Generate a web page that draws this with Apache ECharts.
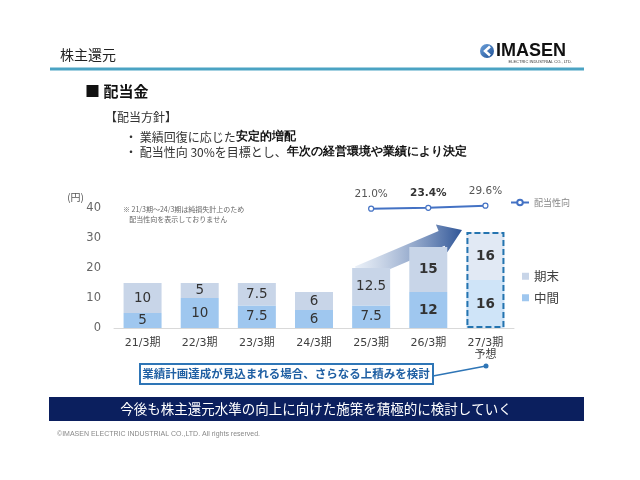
<!DOCTYPE html>
<html>
<head>
<meta charset="utf-8">
<script src="https://cdn.jsdelivr.net/npm/echarts@6/dist/echarts.min.js"></script>
<style>
html, body { margin: 0; padding: 0; background: #fff; }
#main { width: 640px; height: 480px; }
</style>
</head>
<body>
<div id="main"></div>
<script>
var categories = ['21/3期', '22/3期', '23/3期', '24/3期', '25/3期', '26/3期', '27/3期\n予想'];
var interimValues = [5, 10, 7.5, 6, 7.5, 12, 16];
var yearEndValues = [10, 5, 7.5, 6, 12.5, 15, 16];
var payoutRatio = [null, null, null, null, 21.0, 23.4, 29.6];
var forecastIndex = 6;

var JP = '"Noto Sans CJK JP", sans-serif';
var NUM = '"DejaVu Sans", "Noto Sans CJK JP", sans-serif';

var chartDom = document.getElementById('main');
var myChart = echarts.init(chartDom, null, { renderer: 'canvas' });

// 予想期だけ色を薄く、26/3期以降はラベルを太字
function buildBars(values, forecastColor) {
	var out = [];
	for (var i = 0; i < values.length; i++) {
		var item = { value: values[i] };
		if (i === forecastIndex) {
			item.itemStyle = { color: forecastColor };
		}
		if (i >= 5) {
			item.label = { fontWeight: 'bold' };
		}
		out.push(item);
	}
	return out;
}

var forecastBox = [];
for (var i = 0; i < categories.length; i++) {
	forecastBox.push(i === forecastIndex ? interimValues[i] + yearEndValues[i] : null);
}

var payoutData = [];
for (var j = 0; j < payoutRatio.length; j++) {
	if (payoutRatio[j] === null) {
		payoutData.push(null);
	} else {
		payoutData.push({
			value: payoutRatio[j],
			label: j === 5 ? { fontWeight: 'bold', color: '#333' } : {}
		});
	}
}

var barLabel = {
	show: true,
	position: 'inside',
	color: '#333',
	fontSize: 13.5,
	fontFamily: NUM
};

var option = {
	animation: false,
	backgroundColor: '#fff',
	textStyle: { fontFamily: JP },
	grid: [{
		left: 114, width: 400, top: 208, height: 120
	}, {
		left: 114, width: 400, top: 181, height: 35
	}],
	xAxis: [{
		type: 'category',
		gridIndex: 0,
		data: categories,
		axisLine: { lineStyle: { color: '#d9d9d9', width: 1 } },
		axisTick: { show: false },
		axisLabel: { color: '#404040', fontSize: 11, margin: 9, lineHeight: 12, fontFamily: NUM }
	}, {
		type: 'category',
		gridIndex: 1,
		data: categories,
		show: false
	}],
	yAxis: [{
		type: 'value',
		gridIndex: 0,
		min: 0,
		max: 40,
		interval: 10,
		name: '(円)',
		nameLocation: 'end',
		nameGap: 6,
		nameTextStyle: { color: '#555', fontSize: 10, align: 'right', padding: [0, 30, 0, 0] },
		axisLine: { show: false },
		axisTick: { show: false },
		splitLine: { show: false },
		axisLabel: { color: '#666', fontSize: 11.5, margin: 13, fontFamily: NUM }
	}, {
		type: 'value',
		gridIndex: 1,
		min: 0,
		max: 100,
		show: false
	}],
	legend: [{
		data: ['配当性向'],
		left: 510,
		top: 198,
		padding: 0,
		itemWidth: 18,
		itemHeight: 7,
		itemGap: 4,
		textStyle: { color: '#888', fontSize: 9 }
	}, {
		data: ['期末', '中間'],
		orient: 'vertical',
		left: 522,
		top: 270,
		padding: 0,
		icon: 'rect',
		itemWidth: 7,
		itemHeight: 7,
		itemGap: 9,
		textStyle: { color: '#404040', fontSize: 12.5 }
	}],
	series: [{
		name: '中間',
		type: 'bar',
		stack: 'dividend',
		barWidth: 38,
		barGap: '-100%',
		itemStyle: { color: '#9fc7ef' },
		label: barLabel,
		data: buildBars(interimValues, '#cfe4f8')
	}, {
		name: '期末',
		type: 'bar',
		stack: 'dividend',
		barWidth: 38,
		barGap: '-100%',
		itemStyle: { color: '#c8d5e8' },
		label: barLabel,
		data: buildBars(yearEndValues, '#e1e9f4')
	}, {
		name: '予想枠',
		type: 'bar',
		barWidth: 38,
		barGap: '-100%',
		z: 4,
		silent: true,
		itemStyle: {
			color: 'rgba(0,0,0,0)',
			borderColor: '#2474b0',
			borderWidth: 2,
			borderType: [6, 3]
		},
		data: forecastBox
	}, {
		name: '配当性向',
		type: 'line',
		xAxisIndex: 1,
		yAxisIndex: 1,
		symbol: 'circle',
		symbolSize: 5,
		lineStyle: { color: '#4472c4', width: 2 },
		itemStyle: { color: '#fff', borderColor: '#4472c4', borderWidth: 1.2 },
		label: {
			show: true,
			position: 'top',
			distance: 6,
			color: '#555',
			fontSize: 10.5,
			fontFamily: NUM,
			formatter: function(p) {
				return p.value.toFixed(1) + '%';
			}
		},
		data: payoutData
	}],
	graphic: [{
		// 矢印
		type: 'polygon',
		z: 0,
		shape: {
			points: [[355, 266.6], [438.6, 231], [435.9, 224.5], [462, 230], [447.3, 252.3], [444.6, 245.8], [361, 281.4]]
		},
		style: {
			fill: new echarts.graphic.LinearGradient(0, 0, 1, 0, [
				{ offset: 0, color: 'rgba(220,230,243,0.6)' },
				{ offset: 1, color: '#2f5597' }
			])
		}
	}, {
		type: 'text', x: 60, y: 55,
		style: { text: '株主還元', fill: '#222', font: '14px ' + JP, verticalAlign: 'middle' }
	}, {
		type: 'line',
		shape: { x1: 50, y1: 69, x2: 584, y2: 69 },
		style: { stroke: '#4ba3c3', lineWidth: 3 }
	}, {
		type: 'circle',
		shape: { cx: 487, cy: 51, r: 7 },
		style: {
			fill: new echarts.graphic.LinearGradient(0, 0, 1, 1, [
				{ offset: 0, color: '#6fa3dc' },
				{ offset: 1, color: '#1c4f95' }
			])
		}
	}, {
		type: 'polyline',
		shape: { points: [[490, 46.5], [485, 51], [490, 55.5]] },
		style: { stroke: '#fff', lineWidth: 2.5, fill: null }
	}, {
		type: 'text', x: 496, y: 51,
		style: { text: 'IMASEN', fill: '#111', font: 'bold 18px "Liberation Sans", sans-serif', verticalAlign: 'middle' }
	}, {
		type: 'text', x: 572, y: 62,
		style: { text: 'ELECTRIC INDUSTRIAL CO., LTD.', fill: '#333', font: '4px "Liberation Sans", sans-serif', align: 'right', verticalAlign: 'middle' }
	}, {
		type: 'text', x: 85, y: 91,
		style: { text: '■ 配当金', fill: '#111', font: 'bold 15px ' + JP, verticalAlign: 'middle' }
	}, {
		type: 'text', x: 105, y: 117,
		style: { text: '【配当方針】', fill: '#333', font: '12px ' + JP, verticalAlign: 'middle' }
	}, {
		type: 'text', x: 125, y: 137,
		style: {
			text: '・ 業績回復に応じた{b|安定的増配}',
			fill: '#333', font: '12px ' + JP, verticalAlign: 'middle',
			rich: { b: { fontWeight: 'bold', fontSize: 12, fill: '#111' } }
		}
	}, {
		type: 'text', x: 125, y: 152,
		style: {
			text: '・ 配当性向 30%を目標とし、{b|年次の経営環境や業績により決定}',
			fill: '#333', font: '12px ' + JP, verticalAlign: 'middle',
			rich: { b: { fontWeight: 'bold', fontSize: 12, fill: '#111' } }
		}
	}, {
		type: 'text', x: 123, y: 214,
		style: {
			text: '※ 21/3期～24/3期は純損失計上のため\n    配当性向を表示しておりません',
			fill: '#666', font: '7px ' + JP, lineHeight: 10, verticalAlign: 'middle'
		}
	}, {
		type: 'line',
		shape: { x1: 433, y1: 376, x2: 486, y2: 366 },
		style: { stroke: '#2e75b6', lineWidth: 1.5 }
	}, {
		type: 'circle',
		shape: { cx: 486, cy: 366, r: 2.5 },
		style: { fill: '#2e75b6' }
	}, {
		type: 'rect',
		shape: { x: 140, y: 364, width: 293, height: 20 },
		style: { fill: '#fff', stroke: '#2e75b6', lineWidth: 2 }
	}, {
		type: 'text', x: 286, y: 374,
		style: { text: '業績計画達成が見込まれる場合、さらなる上積みを検討', fill: '#1f5fa3', font: 'bold 11.5px ' + JP, align: 'center', verticalAlign: 'middle' }
	}, {
		type: 'rect',
		shape: { x: 49, y: 397, width: 535, height: 24 },
		style: { fill: '#0b1f5e' }
	}, {
		type: 'text', x: 316, y: 409,
		style: { text: '今後も株主還元水準の向上に向けた施策を積極的に検討していく', fill: '#fff', font: '13.5px ' + JP, align: 'center', verticalAlign: 'middle' }
	}, {
		type: 'text', x: 57, y: 434,
		style: { text: '©IMASEN ELECTRIC INDUSTRIAL CO.,LTD. All rights reserved.', fill: '#888', font: '7px "Liberation Sans", sans-serif', verticalAlign: 'middle' }
	}]
};

option && myChart.setOption(option);
</script>
</body>
</html>
